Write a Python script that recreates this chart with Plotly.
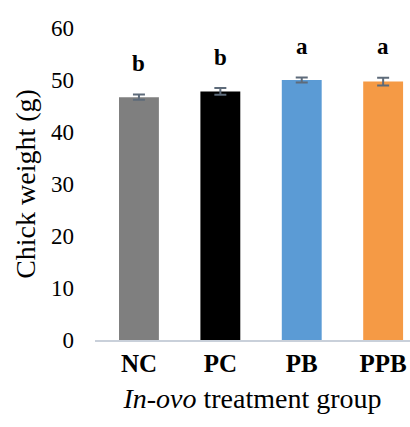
import plotly.graph_objects as go

categories = ["NC", "PC", "PB", "PPB"]
values = [46.7, 47.8, 50.0, 49.7]
errors = [0.5, 0.65, 0.5, 0.75]
letters = ["b", "b", "a", "a"]
colors = ["#7F7F7F", "#000000", "#5B9BD5", "#F59A45"]
y_ticks = [0, 10, 20, 30, 40, 50, 60]

FONT = "Liberation Serif, Times New Roman, serif"

fig = go.Figure()
fig.add_trace(go.Bar(
    x=categories, y=values,
    marker=dict(color=colors, line=dict(width=0)),
    width=0.49,
    error_y=dict(type="data", array=errors, visible=True, color="#5E6B7A", thickness=2, width=6),
    showlegend=False,
))

for c, v, e, l in zip(categories, values, errors, letters):
    fig.add_annotation(x=c, y=v + e, text=f"<b>{l}</b>", showarrow=False,
                       yanchor="middle", yshift=31,
                       font=dict(family=FONT, size=23, color="#000000"))

fig.update_layout(
    width=410, height=427,
    margin=dict(l=95, r=0, t=28, b=87),
    paper_bgcolor="white", plot_bgcolor="white",
    font=dict(family=FONT, color="#000000"),
)
fig.update_xaxes(
    range=[-0.54, 3.33], automargin=False,
    showline=True, linecolor="#C9D0DA", linewidth=2,
    showgrid=False, ticks="",
    tickfont=dict(family=FONT, size=25, color="#000000"),
    tickvals=categories, ticktext=[f"<b>{c}</b>" for c in categories],
    title=dict(text="<i>In-ovo</i> treatment group", font=dict(family=FONT, size=28, color="#000000"), standoff=12),
)
fig.update_yaxes(
    range=[0, 60], tickvals=y_ticks, automargin=False,
    showline=False, showgrid=False, zeroline=False, ticks="",
    ticklabelstandoff=20,
    tickfont=dict(family=FONT, size=23, color="#000000"),
    title=dict(text="Chick weight (g)", font=dict(family=FONT, size=28, color="#000000"), standoff=7),
)

fig.write_html("out.html", config={"displayModeBar": False},
               post_script="document.body.style.margin='0';document.body.style.overflow='hidden';")
